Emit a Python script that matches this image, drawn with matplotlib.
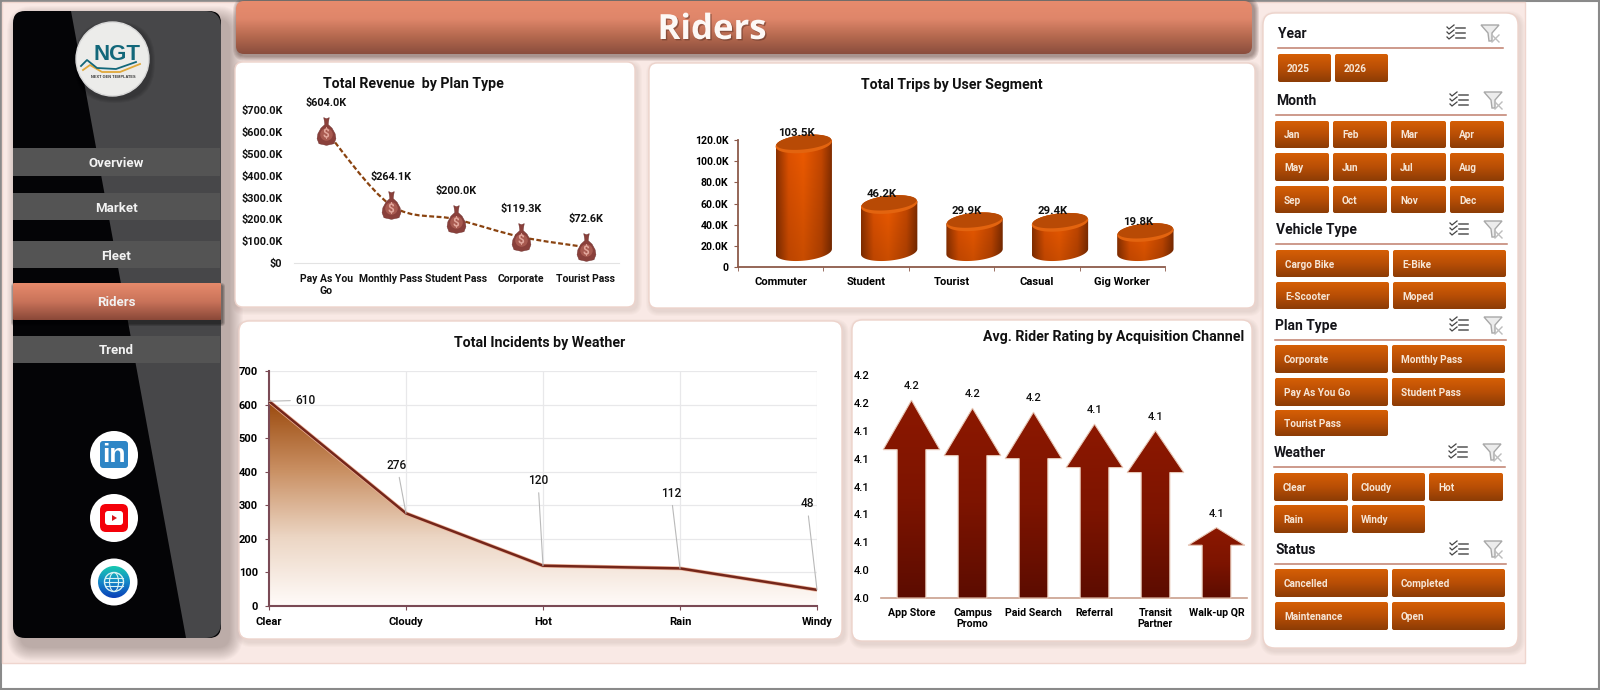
import numpy as np
import matplotlib
matplotlib.use('Agg')
import matplotlib.pyplot as plt
import matplotlib.patheffects as pe
from matplotlib.colors import to_rgb
from matplotlib.patches import Circle, Ellipse, FancyBboxPatch, PathPatch, Polygon
from matplotlib.path import Path

W, H = 1600, 690
CHART_FONT = ['Roboto', 'DejaVu Sans']
PLAIN = ['Liberation Sans', 'DejaVu Sans']

# chart data
plan_types = ['Pay As You\nGo', 'Monthly Pass', 'Student Pass', 'Corporate', 'Tourist Pass']
plan_revenue = [604.0, 264.1, 200.0, 119.3, 72.6]
segments = ['Commuter', 'Student', 'Tourist', 'Casual', 'Gig Worker']
segment_trips = [103.5, 46.2, 29.9, 29.4, 19.8]
weather = ['Clear', 'Cloudy', 'Hot', 'Rain', 'Windy']
weather_incidents = [610, 276, 120, 112, 48]
channels = ['App Store', 'Campus\nPromo', 'Paid Search', 'Referral', 'Transit\nPartner', 'Walk-up QR']
channel_rating = [4.163, 4.157, 4.154, 4.145, 4.140, 4.067]

# navigation and slicer captions
nav_items = ['Overview', 'Market', 'Fleet', 'Riders', 'Trend']
year_items = ['2025', '2026']
month_items = ['Jan', 'Feb', 'Mar', 'Apr', 'May', 'Jun', 'Jul', 'Aug', 'Sep', 'Oct', 'Nov', 'Dec']
vehicle_items = ['Cargo Bike', 'E-Bike', 'E-Scooter', 'Moped']
plan_items = ['Corporate', 'Monthly Pass', 'Pay As You Go', 'Student Pass', 'Tourist Pass']
weather_items = ['Clear', 'Cloudy', 'Hot', 'Rain', 'Windy']
status_items = ['Cancelled', 'Completed', 'Maintenance', 'Open']


def ramp(stops, n=128):
    # vertical colour ramp, evenly spaced stops
    rgb = np.array([to_rgb(c) for c in stops])
    pos = np.linspace(0, 1, len(stops))
    t = np.linspace(0, 1, n)
    return np.stack([np.interp(t, pos, rgb[:, i]) for i in range(3)], axis=1)[:, None, :]


def round_box(ax, x0, y0, x1, y1, r=3, **kw):
    box = FancyBboxPatch((x0, y0), x1 - x0, y1 - y0,
                         boxstyle=f'round,pad=0,rounding_size={r}', **kw)
    ax.add_patch(box)
    return box


def grad_box(ax, x0, y0, x1, y1, stops, r=3, z=3):
    box = round_box(ax, x0, y0, x1, y1, r=r, fc='none', ec='none', zorder=z)
    im = ax.imshow(ramp(stops), extent=(x0, x1, y1, y0), aspect='auto', zorder=z)
    im.set_clip_path(box)
    return box


def shadow(ax, x0, y0, x1, y1, dx, dy, spread, color='#6b4036', alpha=0.025, r=10, z=1):
    for i in range(spread):
        g = spread - i
        round_box(ax, x0 + dx - g, y0 + dy - g, x1 + dx + g, y1 + dy + g, r=r + g,
                  fc=color, ec='none', alpha=alpha, zorder=z)


def panel(ax, x0, y0, x1, y1, r=8):
    shadow(ax, x0, y0, x1, y1, 2, 3, 5, r=r)
    round_box(ax, x0, y0, x1, y1, r=r, fc='white', ec='#edd3cb', lw=1, zorder=2)


def label(ax, x, y, s, size=9, color='#111111', weight='bold', ha='center', family=CHART_FONT, z=6):
    return ax.text(x, y, s, fontsize=size, color=color, fontweight=weight, ha=ha, va='center',
                   family=family, zorder=z)


def chart_axes(x0, y0, x1, y1):
    ax = fig.add_axes([x0 / W, 1 - y1 / H, (x1 - x0) / W, (y1 - y0) / H])
    ax.patch.set_alpha(0)
    return ax


def style_ticks(ax, family=CHART_FONT, weight='bold'):
    for t in ax.get_xticklabels() + ax.get_yticklabels():
        t.set_family(family)
        t.set_fontweight(weight)


def checklist_icon(ax, cx, cy):
    for dy in (-5, 0, 5):
        ax.plot([cx - 9, cx - 7, cx - 2], [cy + dy - 1, cy + dy + 1, cy + dy - 3], color='#444444', lw=0.9, zorder=6)
        ax.plot([cx, cx + 9], [cy + dy, cy + dy], color='#555555', lw=1.1, zorder=6)


def filter_icon(ax, cx, cy):
    funnel = [(cx - 9, cy - 8), (cx + 9, cy - 8), (cx + 2, cy), (cx + 2, cy + 8), (cx - 1, cy + 8), (cx - 2, cy)]
    ax.add_patch(Polygon(funnel, closed=True, fc='#ececec', ec='#a8a8a8', lw=1, zorder=6))
    ax.plot([cx + 2, cx + 9], [cy + 2, cy + 9], color='#bdbdbd', lw=1, zorder=6)
    ax.plot([cx + 2, cx + 9], [cy + 9, cy + 2], color='#bdbdbd', lw=1, zorder=6)


fig = plt.figure(figsize=(W / 100, H / 100), dpi=100, facecolor='white')

# full-page layer in pixel coordinates for everything that is not a chart
page = fig.add_axes([0, 0, 1, 1])
page.set_xlim(0, W)
page.set_ylim(H, 0)
page.axis('off')

page.add_patch(plt.Rectangle((0.5, 0.5), W - 1.5, H - 1.5, fc='white', ec='#8a8a8a', lw=1.5, zorder=0))
page.add_patch(plt.Rectangle((2, 2), 1523, 661, fc='#f9e9e5', ec='#efd5ce', lw=1, zorder=0.5))

# sidebar
shadow(page, 13, 11, 221, 638, 8, 9, 14, color='#3a2a26', alpha=0.022, r=12)
side = round_box(page, 13, 11, 221, 638, r=12, fc='#040406', ec='none', zorder=2)
wedge = Polygon([(71, 11), (222, 11), (222, 638), (186, 638)], closed=True, fc='#474749', ec='none', zorder=2.1)
page.add_patch(wedge)
wedge.set_clip_path(round_box(page, 13, 11, 221, 638, r=16, fc='none', ec='none', zorder=2))

nav_rows = [(148, 176), (193, 220), (241, 268), (283, 320), (336, 363)]
for name, (y0, y1) in zip(nav_items, nav_rows):
    if name == 'Riders':
        shadow(page, 13, y0, 221, y1, 1, 3, 3, color='#000000', alpha=0.15, r=1, z=2.2)
        grad_box(page, 13, y0, 221, y1, ['#e78a6b', '#c9735a', '#8a4838'], r=1, z=2.3)
    else:
        page.add_patch(plt.Rectangle((13, y0), 207, y1 - y0, fc='#545454', ec='none', zorder=2.3))
    label(page, 116, (y0 + y1) / 2 + 1.5, name, size=9.5, color='#f2f2f2')

# logo badge
shadow(page, 76, 22, 149, 96, 2, 3, 4, color='#000000', alpha=0.06, r=36, z=2.4)
page.add_patch(Ellipse((112.5, 59), 73, 74, fc='#ececea', ec='#d8d8d8', lw=1, zorder=3))
page.plot([83, 90, 102, 120, 140], [70, 65, 72, 72, 64], color='#e0a83a', lw=1.3, zorder=6)
page.plot([81, 87, 97, 116, 136], [66, 60, 68, 69, 62], color='#12677a', lw=1.3, zorder=6)
label(page, 117, 55, 'NGT', size=16, color='#12677a', family=PLAIN)
label(page, 113, 77, 'NEXT GEN TEMPLATES', size=2.8, color='#333333', family=PLAIN)

# social buttons
page.add_patch(Circle((114, 455), 24, fc='white', zorder=3))
round_box(page, 100, 441, 128, 468, r=3, fc='#2f86c6', ec='none', zorder=4)
label(page, 114, 455, 'in', size=19, color='white', family=PLAIN)
page.add_patch(Circle((114, 518), 24, fc='white', zorder=3))
round_box(page, 100, 504, 128, 532, r=6, fc='#f40009', ec='none', zorder=4)
round_box(page, 105, 511, 123, 525, r=3, fc='white', ec='none', zorder=5)
page.add_patch(Polygon([(112, 515), (117, 518), (112, 521)], closed=True, fc='#d8141a', ec='none', zorder=6))
page.add_patch(Circle((114, 582), 23.5, fc='white', zorder=3))
globe = Circle((114, 582), 16, fc='none', ec='none', zorder=4)
page.add_patch(globe)
globe_im = page.imshow(ramp(['#18c9b0', '#1487c8', '#0a3fb8']), extent=(98, 130, 598, 566), aspect='auto', zorder=4)
globe_im.set_clip_path(globe)
page.add_patch(Circle((114, 582), 9.5, fc='none', ec='#d8f2f4', lw=1, zorder=5))
page.add_patch(Ellipse((114, 582), 9, 19, fc='none', ec='#d8f2f4', lw=0.8, zorder=5))
for dy in (-4, 0, 4):
    page.plot([105, 123], [582 + dy, 582 + dy], color='#d8f2f4', lw=0.8, zorder=5)

# header bar
shadow(page, 236, 1, 1252, 54, 2, 2, 5, color='#3b1f18', alpha=0.1, r=8)
grad_box(page, 236, 1, 1252, 54, ['#e78b6d', '#df866a', '#b5694f', '#8a4d3d'], r=8)
title = label(page, 712, 30, 'Riders', size=25, color='#fdf8f5', family=['Open Sans', 'DejaVu Sans'])
title.set_path_effects([pe.withSimplePatchShadow(offset=(1, -1), shadow_rgbFace='#5a3024', alpha=0.5)])

# chart cards
panel(page, 235, 62, 635, 307)
panel(page, 649, 63, 1255, 308)
panel(page, 239, 321, 842, 639, r=10)
panel(page, 852, 320, 1252, 641, r=10)
panel(page, 1263, 13, 1518, 648, r=12)

label(page, 413, 84, 'Total Revenue  by Plan Type', size=10.2)
label(page, 952, 85, 'Total Trips by User Segment', size=10.2)
label(page, 540, 343, 'Total Incidents by Weather', size=10.2)
label(page, 1114, 337, 'Avg. Rider Rating by Acquisition Channel', size=10.2)

# slicers: caption, items, title x/y, rule y and x-end, icon x, button columns and rows
slicers = [
    ('Year', year_items, 1278, 33, 48, 1503, 1456, [(1278, 1331), (1335, 1388)], [(54, 82)]),
    ('Month', month_items, 1276, 100, 115, 1506, 1459,
     [(1275, 1329), (1333, 1387), (1391, 1446), (1450, 1504)], [(121, 148), (153, 181), (186, 213)]),
    ('Vehicle Type', vehicle_items, 1276, 229, 244, 1507, 1459,
     [(1276, 1389), (1393, 1506)], [(250, 277), (282, 309)]),
    ('Plan Type', plan_items, 1275, 325, 340, 1506, 1459,
     [(1275, 1388), (1392, 1505)], [(345, 373), (378, 406), (410, 436)]),
    ('Weather', weather_items, 1274, 452, 467, 1505, 1458,
     [(1274, 1348), (1352, 1425), (1429, 1503)], [(473, 501), (505, 533)]),
    ('Status', status_items, 1275, 549, 564, 1506, 1459,
     [(1275, 1388), (1392, 1505)], [(569, 597), (602, 630)]),
]
for name, items, tx, ty, rule_y, rule_x, icon_x, cols, rows in slicers:
    label(page, tx, ty + 1, name, size=10, ha='left', color='#15151a')
    page.plot([tx, rule_x], [rule_y, rule_y], color='#c07f6c', lw=1.1, zorder=5)
    checklist_icon(page, icon_x, ty)
    filter_icon(page, icon_x + 34, ty)
    for i, item in enumerate(items):
        c = i % len(cols)
        r = i // len(cols)
        x0, x1 = cols[c]
        y0, y1 = rows[r]
        grad_box(page, x0, y0, x1, y1, ['#d65f05', '#b84e05', '#8c3c06'], r=2, z=4)
        label(page, x0 + 9, (y0 + y1) / 2 + 1, item, size=7.2, color='#f6e6d6', ha='left')

# revenue line with money bags
ax1 = chart_axes(293.5, 110, 618.5, 263)
x1 = np.arange(len(plan_types))
ax1.set_xlim(-0.5, 4.5)
ax1.set_ylim(0, 700)

# smoothed line: bezier segments through the data points
verts = [(x1[0], plan_revenue[0])]
codes = [Path.MOVETO]
pts = np.column_stack([x1, plan_revenue])
for i in range(len(pts) - 1):
    p0 = pts[max(i - 1, 0)]
    p1, p2 = pts[i], pts[i + 1]
    p3 = pts[min(i + 2, len(pts) - 1)]
    verts += [tuple(p1 + (p2 - p0) / 6), tuple(p2 - (p3 - p1) / 6), tuple(p2)]
    codes += [Path.CURVE4] * 3
ax1.add_patch(PathPatch(Path(verts, codes), fc='none', ec='#8a4310', lw=1.6, ls=(0, (2.2, 1.1)), zorder=2))

bag = Path([(-0.1, 0.5), (0.0, 0.46), (0.1, 0.5), (0.07, 0.33), (0.06, 0.25), (0.2, 0.12), (0.31, -0.08), (0.34, -0.26),
            (0.27, -0.44), (0.0, -0.5), (-0.27, -0.44), (-0.34, -0.26), (-0.31, -0.08), (-0.2, 0.12), (-0.06, 0.25),
            (-0.07, 0.33), (-0.1, 0.5)])
ax1.plot(x1, plan_revenue, ls='none', marker=bag, ms=20, mfc='#8a403b', mec='#6a2f2c', mew=0.3, zorder=3)
ax1.plot(x1, np.array(plan_revenue) - 12, ls='none', marker='o', ms=9, mfc='#a85a50', mec='none', zorder=3.1)
for x, v in zip(x1, plan_revenue):
    ax1.annotate('$', (x, v), xytext=(0, -4), textcoords='offset pixels', ha='center', va='center',
                 fontsize=8.5, color='#e3a79c', fontweight='bold', family=CHART_FONT, zorder=4)
    ax1.annotate(f'${v:.1f}K', (x, v), xytext=(0, 28), textcoords='offset pixels', ha='center', va='center',
                 fontsize=7.8, color='#111111', fontweight='bold', family=CHART_FONT, zorder=4)
ax1.set_xticks(x1, plan_types)
ax1.set_yticks(np.arange(0, 701, 100), ['$0'] + [f'${v}.0K' for v in range(100, 701, 100)])
ax1.tick_params(axis='x', length=0, labelsize=7.5, pad=8, labelcolor='#111111')
ax1.tick_params(axis='y', length=0, labelsize=7.8, pad=8, labelcolor='#111111')
for side_name in ('top', 'left', 'right'):
    ax1.spines[side_name].set_visible(False)
ax1.spines['bottom'].set_color('#e3e3e3')
style_ticks(ax1)

# trips by segment, drawn as shaded cylinders sitting behind the axis plane
ax2 = chart_axes(738, 140, 1165, 267)
ax2.set_xlim(0, 5)
ax2.set_ylim(0, 120)
CYL_DX, CYL_A, CYL_B, CYL_BASE, CYL_TOP, CYL_TILT = 0.77, 0.33, 8.5, 14.5, 12.8, 2.5
edge = np.array([to_rgb('#8f3200'), to_rgb('#e35300'), to_rgb('#f25c00'), to_rgb('#c94900'), to_rgb('#7f2c00')])
u = np.linspace(0, 1, 128)
side_ramp = np.stack([np.interp(u, [0, 0.22, 0.48, 0.8, 1], edge[:, i]) for i in range(3)], axis=1)[None, :, :]
for i, v in enumerate(segment_trips):
    cx = i + CYL_DX
    top = v + CYL_TOP
    t = np.linspace(np.pi, 2 * np.pi, 40)
    low = np.column_stack([cx + CYL_A * np.cos(t), CYL_BASE + CYL_B * np.sin(t) + CYL_TILT * np.cos(t)])
    t2 = np.linspace(0, np.pi, 40)
    up = np.column_stack([cx + CYL_A * np.cos(t2), top + CYL_B * np.sin(t2) + CYL_TILT * np.cos(t2)])
    body = PathPatch(Path(np.vstack([low, up, low[:1]]), closed=True), fc='none', ec='none', zorder=3)
    ax2.add_patch(body)
    shade = side_ramp * np.linspace(1, 0.82, 64)[:, None, None]
    im = ax2.imshow(shade, extent=(cx - CYL_A, cx + CYL_A, CYL_BASE - 14, top + 14), aspect='auto',
                    origin='upper', zorder=3)
    im.set_clip_path(body)
    im.set_clip_box(fig.bbox)
    t3 = np.linspace(0, 2 * np.pi, 60)
    cap = np.column_stack([cx + CYL_A * np.cos(t3), top + CYL_B * np.sin(t3) + CYL_TILT * np.cos(t3)])
    ax2.add_patch(Polygon(cap, closed=True, fc='#e3640f', ec='none', zorder=3.1, clip_on=False))
    inner = np.column_stack([cx + CYL_A * 0.97 * np.cos(t3), top + 1.6 + CYL_B * 0.8 * np.sin(t3) + CYL_TILT * np.cos(t3)])
    ax2.add_patch(Polygon(inner, closed=True, fc='#b84a05', ec='none', zorder=3.2, clip_on=False))
    ax2.annotate(f'{v:.1f}K', (i + 0.68, top + CYL_B), xytext=(0, 2), textcoords='offset pixels', ha='center',
                 va='center', fontsize=8.2, color='#111111', fontweight='bold', family=CHART_FONT, zorder=5,
                 annotation_clip=False)
ax2.set_xticks(np.arange(5) + 0.5, segments)
ax2.set_xticks(np.arange(6), minor=True)
ax2.set_yticks(np.arange(0, 121, 20), ['0'] + [f'{v}.0K' for v in range(20, 121, 20)])
ax2.tick_params(axis='x', which='major', length=0, pad=7, labelsize=8)
ax2.tick_params(axis='x', which='minor', length=3, color='#8c5a4a')
ax2.tick_params(axis='y', length=3, color='#8c5a4a', pad=4, labelsize=7.6)
for side_name in ('top', 'right'):
    ax2.spines[side_name].set_visible(False)
for side_name in ('left', 'bottom'):
    ax2.spines[side_name].set_color('#8c5a4a')
    ax2.spines[side_name].set_linewidth(1.3)
style_ticks(ax2)

# incidents area chart with callout labels
ax3 = chart_axes(269, 371, 817, 606)
x3 = np.arange(len(weather))
ax3.set_xlim(0, 4)
ax3.set_ylim(0, 700)
ax3.grid(True, color='#e8e8ea', lw=0.9)
ax3.set_axisbelow(True)
area = ax3.fill_between(x3, weather_incidents, 0, color='none', zorder=2)
fill_im = ax3.imshow(ramp(['#9b4a0e', '#c98f62', '#ecd6c4', '#fffbf9']), extent=(0, 4, 0, max(weather_incidents)),
                     aspect='auto', zorder=2)
fill_im.set_clip_path(area.get_paths()[0], transform=ax3.transData)
ax3.plot(x3, weather_incidents, color='#eeb49b', lw=2.8, zorder=3, solid_capstyle='butt')
ax3.plot(x3, weather_incidents, color='#74261a', lw=1.8, zorder=3.1, solid_capstyle='butt')
callouts = [(37, 1), (-9, 48), (-5, 85), (-9, 75), (-10, 86)]
for x, v, off in zip(x3, weather_incidents, callouts):
    ax3.annotate(f'{v}', (x, v), xytext=off, textcoords='offset pixels', ha='center', va='center', fontsize=8.6,
                 color='#111111', fontweight='medium', family=CHART_FONT, zorder=5, annotation_clip=False,
                 arrowprops=dict(arrowstyle='-', color='#b9b9b9', lw=0.8, shrinkA=2, shrinkB=0))
ax3.set_xticks(x3, weather)
ax3.set_yticks(np.arange(0, 701, 100))
ax3.tick_params(length=3, color='#7a4a55', pad=5, labelsize=8)
ax3.spines['top'].set_visible(False)
ax3.spines['right'].set_visible(False)
for side_name in ('left', 'bottom'):
    ax3.spines[side_name].set_color('#7a4a55')
    ax3.spines[side_name].set_linewidth(1.5)
style_ticks(ax3)

# rating arrows
ax4 = chart_axes(881, 375, 1247, 598)
RATING_MIN, RATING_STEP = 4.014, 0.021
ax4.set_xlim(-0.5, 5.5)
ax4.set_ylim(RATING_MIN, RATING_MIN + 8 * RATING_STEP)
SHAFT, HEAD = 0.235, 0.465
for i, v in enumerate(channel_rating):
    shoulder = RATING_MIN + (v - RATING_MIN) * 0.75
    outline = [(i - SHAFT, RATING_MIN), (i - SHAFT, shoulder), (i - HEAD, shoulder), (i, v),
               (i + HEAD, shoulder), (i + SHAFT, shoulder), (i + SHAFT, RATING_MIN)]
    arrow = Polygon(outline, closed=True, fc='none', ec='#e8c9b8', lw=0.8, zorder=3.1, clip_on=False)
    ax4.add_patch(arrow)
    im = ax4.imshow(ramp(['#8c1800', '#7d1400', '#5c0c00']), extent=(i - HEAD, i + HEAD, RATING_MIN, v),
                    aspect='auto', zorder=3)
    im.set_clip_path(arrow)
    ax4.annotate(f'{v:.1f}', (i, v), xytext=(0, 14), textcoords='offset pixels', ha='center', va='center',
                 fontsize=8, color='#111111', fontweight='medium', family=CHART_FONT, zorder=5)
ax4.set_xticks(np.arange(6), channels)
ticks4 = RATING_MIN + RATING_STEP * np.arange(9)
ax4.set_yticks(ticks4, [f'{t:.1f}' for t in ticks4])
ax4.tick_params(axis='x', length=0, pad=7, labelsize=7.6)
ax4.tick_params(axis='y', length=0, pad=8, labelsize=8)
for side_name in ('top', 'left', 'right'):
    ax4.spines[side_name].set_visible(False)
ax4.spines['bottom'].set_color('#c9a08e')
ax4.spines['bottom'].set_linewidth(1.2)
style_ticks(ax4)
for t in ax4.get_yticklabels():
    t.set_fontweight('medium')

fig.savefig('out.png', dpi=100)
